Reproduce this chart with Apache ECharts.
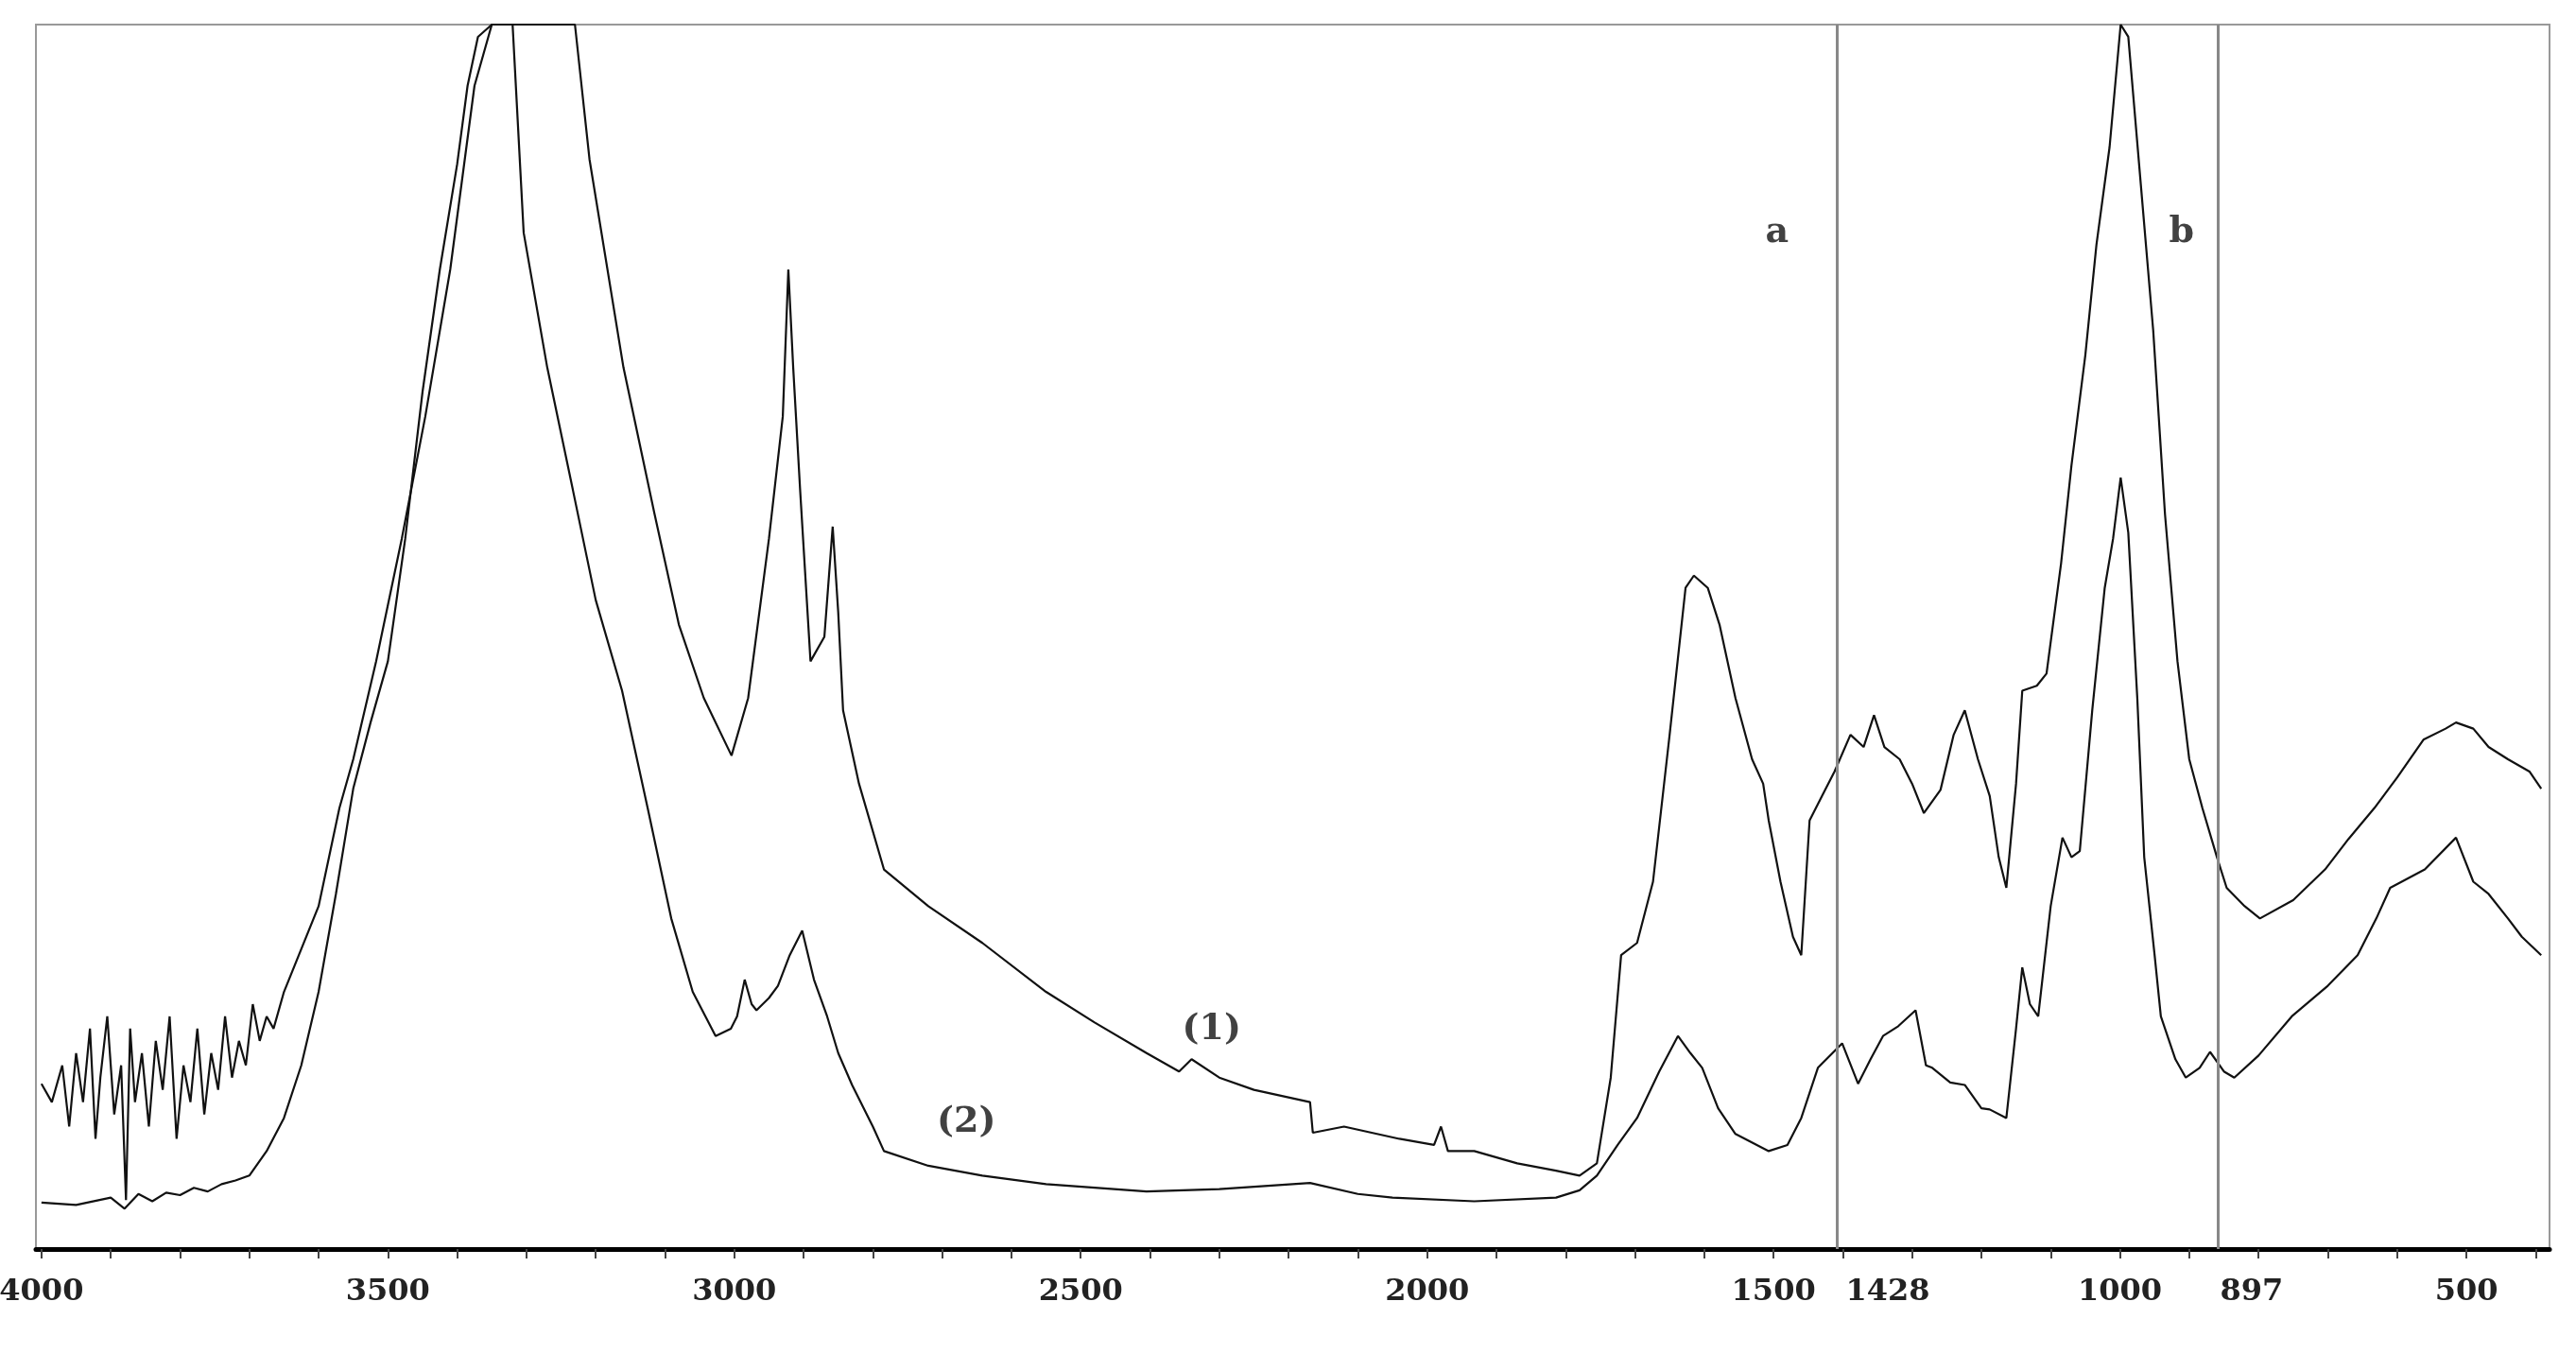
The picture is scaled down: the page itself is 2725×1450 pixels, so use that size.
<!DOCTYPE html>
<html><head><meta charset="utf-8">
<script src="https://cdn.jsdelivr.net/npm/echarts@6/dist/echarts.min.js"></script>
<style>html,body{margin:0;padding:0;background:#fff}#c{width:2725px;height:1450px}</style>
</head><body><div id="c"></div>
<script>
// wavenumber (cm-1), absorbance (arbitrary 0-100)
const curve1 = [
[4000,13.5],[3985,12],[3970,15],[3960,10],[3950,16],[3940,12],[3930,18],[3922,9],[3915,14],[3905,19],[3895,11],[3885,15],[3878,4],[3872,18],[3865,12],[3855,16],[3845,10],[3835,17],[3825,13],[3815,19],[3805,9],[3795,15],[3785,12],[3775,18],[3765,11],[3755,16],[3745,13],[3735,19],[3725,14],[3715,17],[3705,15],[3695,20],[3685,17],[3675,19],[3665,18],[3650,21],
[3600,28],[3570,36],[3550,40],[3517,48],[3480,58],[3446,68],[3410,80],[3375,95],[3350,100],[3230,100],[3209,89],[3160,72],[3115,60],[3080,51],[3044,45],[3004,40.3],
[2980,45],[2950,58],[2930,68],[2922,80],[2915,72],[2905,62],[2890,48],[2870,50],[2858,59],[2850,52],[2843,44],[2820,38],[2784,31],[2720,28],[2642,25],[2550,21],[2480,18.5],[2405,16],[2358,14.5],[2340,15.5],[2300,14],[2250,13],[2169,12],[2165,9.5],[2120,10],[2080,9.5],[2040,9],[1990,8.5],[1980,10],[1970,8],[1932,8],[1870,7],[1814,6.4],[1780,6],[1755,7],[1735,14],[1720,24],[1697,25],[1674,30],[1650,42],[1627,54],[1615,55],[1595,54],[1578,51],[1555,45],[1531,40],[1515,38],[1507,35],[1490,30],[1472,25.5],[1460,24],[1448,35],[1430,37],[1412,39],[1389,42],[1370,41],[1355,43.6],[1340,41],[1318,40],[1300,38],[1283,35.6],[1259,37.5],[1240,42],[1224,44],[1205,40],[1188,37],[1175,32],[1164,29.5],[1150,38],[1141,45.6],[1120,46],[1106,47],[1085,56],[1070,64],[1050,73],[1034,82],[1015,90],[999,100],[988,99],[970,87],[952,75],[935,60],[917,48],[900,40],[881,36],[860,32],[846,29.5],[820,28],[798,27],[750,28.5],[704,31],[670,33.5],[633,36],[600,38.5],[562,41.6],[530,42.5],[515,43],[490,42.5],[468,41],[440,40],[409,39],[392,37.6]
];
const curve2 = [
[4000,3.8],[3950,3.6],[3900,4.2],[3880,3.3],[3860,4.5],[3840,3.9],[3820,4.6],[3800,4.4],[3780,5.0],[3760,4.7],[3740,5.3],[3720,5.6],[3700,6],[3675,8],[3650,10.7],[3625,15],[3600,21],[3575,29],[3550,37.6],[3525,43],[3500,48],[3475,58],[3450,70],[3425,80],[3400,88.6],[3385,95],[3370,99],[3350,100],[3320,100],[3304,83],[3270,72],[3233,62],[3200,53],[3162,45.6],[3125,36],[3091,27],[3060,21],[3027,17.4],[3005,18],[2996,19],[2985,22],[2975,20],[2968,19.5],[2950,20.5],[2937,21.5],[2920,24],[2902,26],[2885,22],[2866,19],[2850,16],[2830,13.4],[2800,10],[2784,8],[2720,6.8],[2642,6],[2550,5.3],[2405,4.7],[2300,4.9],[2169,5.4],[2100,4.5],[2050,4.2],[1932,3.9],[1814,4.2],[1780,4.8],[1755,6],[1725,8.5],[1697,10.7],[1665,14.5],[1638,17.4],[1620,16],[1603,14.8],[1580,11.5],[1555,9.4],[1507,8],[1480,8.5],[1460,10.7],[1436,14.8],[1401,16.8],[1378,13.5],[1360,15.5],[1342,17.4],[1320,18.2],[1295,19.5],[1280,15],[1271,14.8],[1245,13.6],[1224,13.4],[1200,11.5],[1188,11.4],[1164,10.7],[1150,18],[1141,23],[1130,20],[1118,19],[1100,28],[1083,33.6],[1070,32],[1058,32.5],[1040,44],[1022,54],[1010,58],[999,63],[988,58.5],[975,45],[965,32],[950,24],[941,19],[920,15.5],[905,14],[885,14.8],[870,16.1],[850,14.5],[835,14],[800,15.8],[752,19],[700,21.5],[657,24],[630,27],[610,29.5],[560,31],[515,33.6],[490,30],[468,29],[440,27],[420,25.5],[392,24]
];
// tick label texts and the axis positions where the reference prints them
const tickLabels = ["4000","3500","3000","2500","2000","1500","1428","1000","897","500"];
const tickLabelPos = [4000,3500,3000,2500,2000,1500,1335,1000,810,500];
const tickMarks = [4000,3900,3800,3700,3600,3500,3400,3300,3200,3100,3000,2900,2800,2700,2600,2500,2400,2300,2200,2100,2000,1900,1800,1700,1600,1500,1400,1300,1200,1100,1000,900,800,700,600,500,400];
const refLines = [1408,858];
const notes = [["(1)",2311,17.9],["(2)",2665,10.3],["a",1495,83],["b",911,83]];

const chart = echarts.init(document.getElementById('c'));
chart.setOption({
  animation:false,
  backgroundColor:'#fff',
  grid:{left:38,right:28,top:26,bottom:129,show:true,borderColor:'#999',borderWidth:2,outerBoundsMode:'none',containLabel:false},
  xAxis:{type:'value',inverse:true,min:380,max:4008,
    axisLine:{lineStyle:{color:'#000',width:5}},
    axisTick:{show:true,customValues:tickMarks,length:10,lineStyle:{color:'#444',width:2}},
    splitLine:{show:false},
    axisLabel:{customValues:tickLabelPos,margin:30,fontFamily:'DejaVu Serif',fontSize:32,fontWeight:'bold',color:'#222',
      formatter:v=>{const i=tickLabelPos.indexOf(v);return i>=0?tickLabels[i]:'';}}},
  yAxis:{type:'value',min:0,max:100,show:false},
  series:[
    {type:'line',data:curve1,showSymbol:false,lineStyle:{color:'#111',width:2.2},clip:true,
     markLine:{symbol:'none',silent:true,label:{show:false},lineStyle:{color:'#888',width:3,type:'solid'},
       data:refLines.map(v=>({xAxis:v}))}},
    {type:'line',data:curve2,showSymbol:false,lineStyle:{color:'#111',width:2.2},clip:true},
    {type:'scatter',symbolSize:0,data:notes.map(n=>({value:[n[1],n[2]],name:n[0]})),
     label:{show:true,position:'inside',formatter:p=>p.name,fontFamily:'DejaVu Serif',fontWeight:'bold',fontSize:38,color:'#111'}}
  ]
});
</script></body></html>
